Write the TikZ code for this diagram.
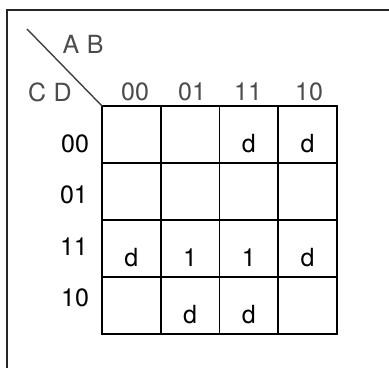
\documentclass[tikz,border=0pt]{standalone}
\usepackage{fontspec}
\setmainfont{TeX Gyre Heros}
\usetikzlibrary{positioning}
\newcommand{\kfont}{\fontsize{25pt}{29pt}\selectfont}

\begin{document}
\begin{tikzpicture}[
    x=1pt, y=-1pt,
    cell/.style={draw, line width=1.6pt, minimum width=58.75pt, minimum height=57pt, inner sep=0pt, outer sep=0pt},
    entry/.style={font=\kfont, yshift=-9pt},
    head/.style={font=\kfont, text=black!70},
    rowlab/.style={font=\kfont},
    frame/.style={line width=1.4pt, black!85}
]
    \useasboundingbox (0,0) rectangle (389,368);
    % page frame
    \coordinate (f0) at (7,10);
    \coordinate (f1) at (389,10);
    \coordinate (f2) at (7,368);
    \draw[frame] (f1) -- (f0) -- (f2);
    % map cells
    \foreach \r in {0,1,2,3} {
        \foreach \c in {0,1,2,3} {
            \node[cell] (c\r\c) at (131.4+58.75*\c, 134.5+57*\r) {};
        }
    }
    % corner
    \coordinate (dg) at (27,29);
    \draw[line width=1.4pt, black!75] (dg) -- (c00.north west);
    \node[head] (ab) at (83,44) {A\hspace{0.3em}B};
    \node[head] (cd) at (50,92) {C\hspace{0.3em}D};
    % column labels
    \node[head] (h0) at (135,92) {00};
    \node[head] (h1) at (192,92) {01};
    \node[head] (h2) at (248,92) {11};
    \node[head] (h3) at (309,92) {10};
    % row labels
    \node[rowlab] (r0) at (75,144) {00};
    \node[rowlab] (r1) at (74,195) {01};
    \node[rowlab] (r2) at (74,247) {11};
    \node[rowlab] (r3) at (75,298) {10};
    % entries
    \node[entry] at (c02) {d};
    \node[entry] at (c03) {d};
    \node[entry] at (c20) {d};
    \node[entry] at (c21) {1};
    \node[entry] at (c22) {1};
    \node[entry] at (c23) {d};
    \node[entry] at (c31) {d};
    \node[entry] at (c32) {d};
\end{tikzpicture}
\end{document}
